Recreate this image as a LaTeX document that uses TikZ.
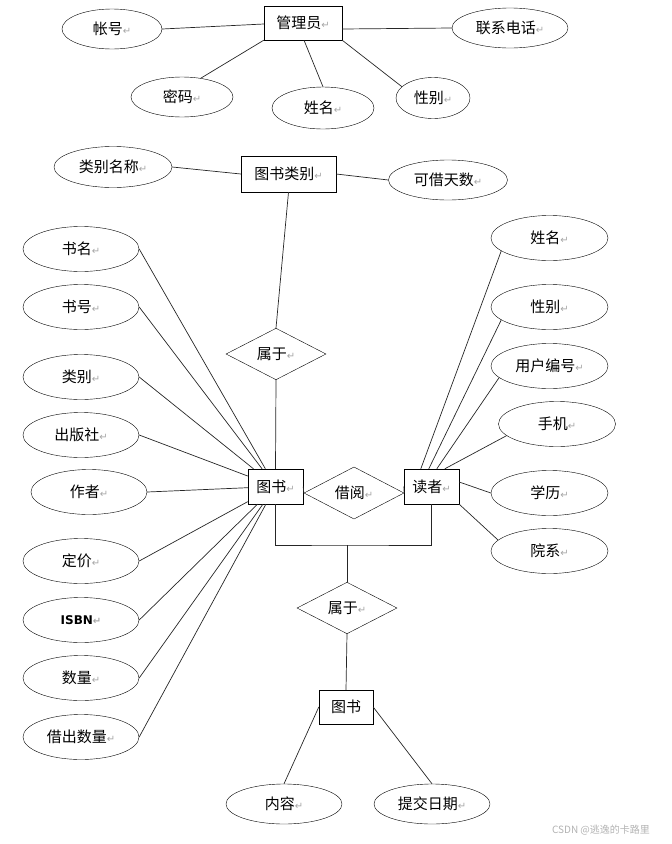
\documentclass[tikz,border=0pt]{standalone}
\usepackage{fontspec}
\setmainfont{Noto Sans CJK SC}
\newfontfamily\symfont{DejaVu Sans}
\usetikzlibrary{shapes.geometric}
\newcommand{\pmark}{{\color{gray!70}\symfont\fontsize{10}{10}\selectfont ↵}}

\begin{document}
\begin{tikzpicture}[
        x=1pt, y=-1pt,
        font=\fontsize{15}{17}\selectfont,
        box/.style={draw, rectangle, inner sep=0pt, minimum width=55pt, minimum height=35pt},
        attr/.style={draw, ellipse, inner sep=0pt, minimum width=116pt, minimum height=45pt},
        rel/.style={draw, diamond, inner sep=0pt, minimum width=100pt, minimum height=46pt},
        link/.style={draw=black!85, line width=0.7pt}
    ]
        \useasboundingbox (0,0) rectangle (672,844);
        % entities
        \node[box, minimum width=78pt, minimum height=34pt] (admin) at (303,23) {管理员\pmark};
        \node[box, minimum width=95pt, minimum height=36pt] (cat) at (288.5,174) {图书类别\pmark};
        \node[box] (book) at (275.5,486.5) {图书\pmark};
        \node[box] (reader) at (431.5,486.5) {读者\pmark};
        \node[box, minimum width=54pt, minimum height=34pt] (book2) at (346,707) {图书};
        % relations
        \node[rel] (bel1) at (276,354) {属于\pmark};
        \node[rel] (borrow) at (354,493) {借阅\pmark};
        \node[rel] (bel2) at (347,608) {属于\pmark};
        % admin attributes
        \node[attr, minimum width=100pt, minimum height=40pt] (acc) at (112,29) {帐号\pmark};
        \node[attr, minimum height=40pt] (tel) at (510,28) {联系电话\pmark};
        \node[attr, minimum width=102pt, minimum height=40pt] (pwd) at (182,97) {密码\pmark};
        \node[attr, minimum width=102pt, minimum height=42pt] (aname) at (323,108) {姓名\pmark};
        \node[attr, minimum width=74pt, minimum height=41pt] (asex) at (433,98) {性别\pmark};
        % category attributes
        \node[attr, minimum width=118pt, minimum height=41pt] (catname) at (113,167) {类别名称\pmark};
        \node[attr, minimum width=119pt, minimum height=40pt] (days) at (448,180) {可借天数\pmark};
        % book attributes
        \node[attr] (bname) at (81,249) {书名\pmark};
        \node[attr] (bno) at (81,307) {书号\pmark};
        \node[attr] (btype) at (81,377) {类别\pmark};
        \node[attr] (press) at (81,435) {出版社\pmark};
        \node[attr] (author) at (89,492) {作者\pmark};
        \node[attr] (price) at (81,561) {定价\pmark};
        \node[attr] (isbn) at (81,620) {\symfont\bfseries\fontsize{12}{14}\selectfont ISBN\pmark};
        \node[attr] (amount) at (81,678) {数量\pmark};
        \node[attr] (lent) at (81,737) {借出数量\pmark};
        % reader attributes
        \node[attr, minimum width=117pt] (rname) at (549.5,238) {姓名\pmark};
        \node[attr, minimum width=117pt] (rsex) at (549.5,307) {性别\pmark};
        \node[attr, minimum width=117pt] (rid) at (549.5,366) {用户编号\pmark};
        \node[attr, minimum width=117pt] (phone) at (557,424) {手机\pmark};
        \node[attr, minimum width=117pt] (edu) at (549.5,493) {学历\pmark};
        \node[attr, minimum width=117pt] (dept) at (549.5,551) {院系\pmark};
        % sub attributes
        \node[attr, minimum height=40pt] (content) at (284,804) {内容\pmark};
        \node[attr, minimum height=40pt] (date) at (432,804) {提交日期\pmark};
        \coordinate (bus) at (347,545);
        % watermark
        \node[text=gray!60, font=\fontsize{10}{11}\selectfont] (mark) at (601,830) {CSDN @逃逸的卡路里};

        % admin links
        \draw[link] (acc.east) -- ([yshift=-1pt]admin.west);
        \draw[link] ([yshift=-6pt]admin.east) -- (tel.west);
        \draw[link] (pwd.45) -- (admin.south west);
        \draw[link] ([xshift=1pt]admin.south) -- (aname.north);
        \draw[link] (admin.south east) -- (asex.160);
        % category links
        \draw[link] (catname.east) -- (cat.west);
        \draw[link] (cat.east) -- (days.west);
        \draw[link] (cat.south) -- (bel1.north);
        \draw[link] (bel1.south) -- (book.north);
        % book links
        \foreach \a in {bname,bno,btype,press,author,price,isbn,amount,lent}
            \draw[link] (\a.east) -- (book);
        % borrow
        \draw[link] (book.east) -- (borrow.west);
        \draw[link] (borrow.east) -- (reader.west);
        % reader links
        \draw[link] (rname.195) -- ([xshift=17pt]reader.north west);
        \draw[link] (rsex.195) -- ([xshift=25pt]reader.north west);
        \draw[link] (rid.193) -- ([xshift=33pt]reader.north west);
        \draw[link] (phone.193) -- ([xshift=41pt]reader.north west);
        \draw[link] ([yshift=4.5pt]reader.east) -- (edu.west);
        \draw[link] (reader.south east) -- (dept.168);
        % lower part
        \draw[link] (book.south) |- (bus) -| (reader.south);
        \draw[link] (bus) -- (bel2.north);
        \draw[link] (bel2.south) -- (book2.north);
        \draw[link] (book2.west) -- (content.north);
        \draw[link] (book2.east) -- (date.north);
    \end{tikzpicture}
\end{document}
